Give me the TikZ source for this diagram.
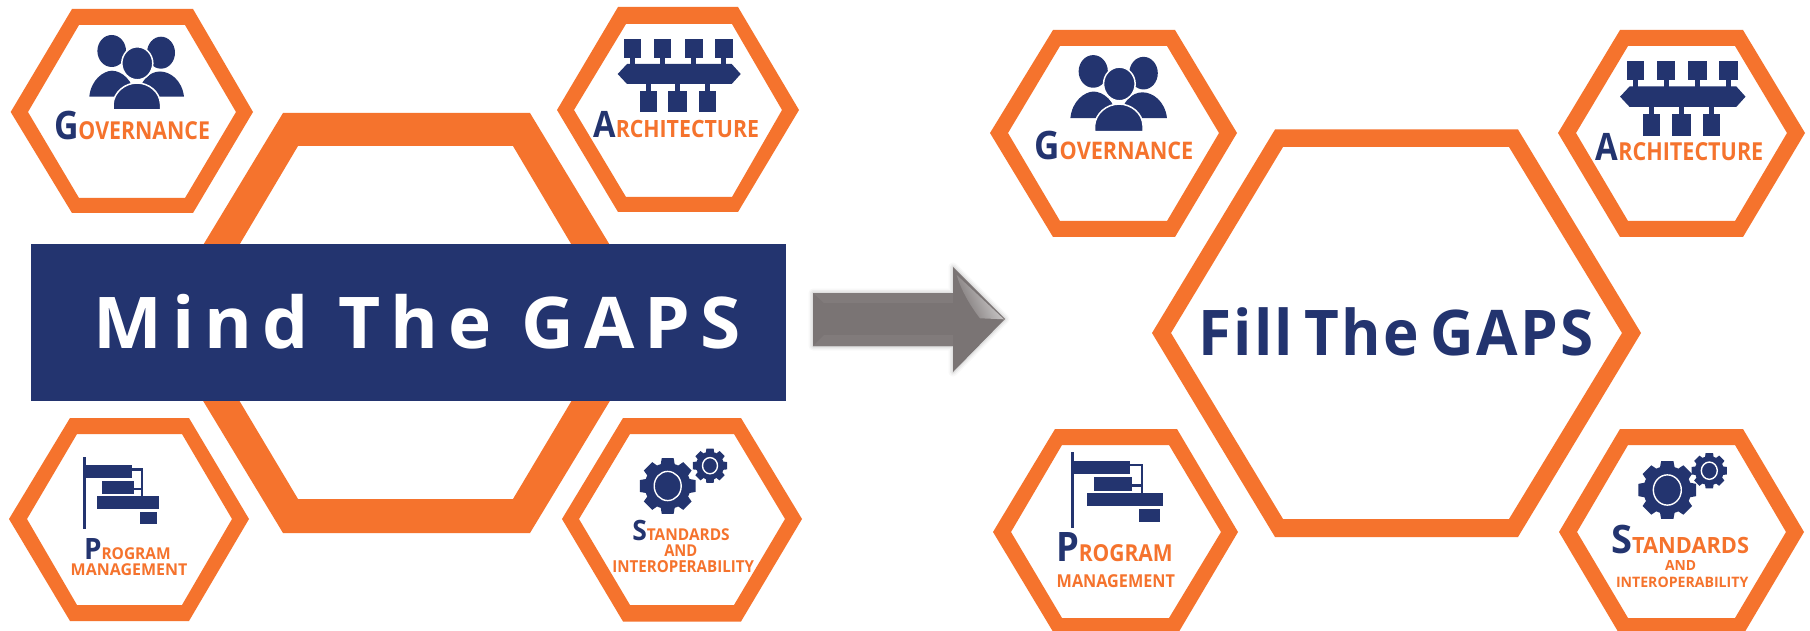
\documentclass[tikz,border=0pt]{standalone}
\usepackage{fontspec}
\usepackage{graphicx}
\setmainfont{Open Sans}
\newfontfamily\mindfont[LetterSpace=14]{Open Sans}
\newfontfamily\fillfont[LetterSpace=4]{Open Sans}
\definecolor{hexorange}{HTML}{F5732D}
\definecolor{navyblue}{HTML}{23346F}
\definecolor{arrowgrey}{HTML}{7A7474}
\newlength{\mylen}
\newcommand{\fitw}[2]{\settowidth{\mylen}{#2}\pgfmathsetmacro{\myf}{#1/\mylen}\scalebox{\myf}[1]{#2}}
\newcommand{\sz}[1]{\fontsize{#1}{#1}\selectfont}
\newcommand{\capw}[4]{{\bfseries\color{navyblue}\sz{#1}#3}{\bfseries\color{hexorange}\sz{#2}#4}}
\newcommand{\smw}[2]{{\bfseries\color{hexorange}\sz{#1}#2}}
\newcommand{\peopleicon}{%
  \fill[navyblue] (111.7,51) ellipse (14.3 and 16);
  \fill[navyblue] (161,52.7) ellipse (14 and 16);
  \fill[navyblue] (89.3,96.7) .. controls (91,80) and (103,71) .. (112,70.7) .. controls (122,71) and (133,80) .. (135,96.7) -- cycle;
  \fill[navyblue] (184,96.7) .. controls (182,80) and (170,71.5) .. (160,71.5) .. controls (150,71.5) and (140,80) .. (138,96.7) -- cycle;
  \fill[navyblue,draw=white,line width=1.5] (137.3,63.3) ellipse (15.5 and 16.5);
  \fill[navyblue,draw=white,line width=1.5] (113,110) -- (113,104) .. controls (114,92) and (125,83) .. (137,83) .. controls (149,83) and (160,92) .. (160.5,104) -- (160.5,110) -- cycle;
  \fill[white] (85,109) rectangle (190,115);
}
\newcommand{\archicon}{%
  \fill[navyblue] (624,38.7) rectangle (641,58);
  \fill[navyblue] (654.3,38.7) rectangle (671.3,58);
  \fill[navyblue] (684.7,38.7) rectangle (702.7,58);
  \fill[navyblue] (714.7,38.7) rectangle (733,58);
  \fill[navyblue] (630,58) rectangle (635,65);
  \fill[navyblue] (660.3,58) rectangle (665.3,65);
  \fill[navyblue] (691.2,58) rectangle (696.2,65);
  \fill[navyblue] (721.3,58) rectangle (726.3,65);
  \fill[navyblue] (617.7,74) -- (627,64) -- (731.7,64) -- (740.7,74) -- (731.7,84) -- (627,84) -- cycle;
  \fill[navyblue] (645.8,84) rectangle (650.8,92);
  \fill[navyblue] (675.2,84) rectangle (680.2,92);
  \fill[navyblue] (704.7,84) rectangle (709.7,92);
  \fill[navyblue] (639.7,91.3) rectangle (657,112.3);
  \fill[navyblue] (668.3,91.3) rectangle (687,112.3);
  \fill[navyblue] (698.7,91.3) rectangle (715.7,112.3);
}
\newcommand{\ganttbars}{%
  \fill[navyblue] (83.3,457.3) rectangle (86,529.3);
  \draw[navyblue,line width=2.2] (132,469.5) -- (141.7,469.5) -- (141.7,497);
  \draw[navyblue,line width=2.2] (133,489) -- (141,489);
  \fill[navyblue] (86,465.3) rectangle (132.3,478);
  \fill[navyblue] (102.3,481.3) rectangle (133.7,494);
  \fill[navyblue] (96.7,496) rectangle (159.3,508.7);
  \fill[navyblue] (139.7,511.7) rectangle (156.7,524.3);
}
% centre x, centre y, root radius, outer radius, ring radius
\newcommand{\gearicon}[5]{%
  \fill[navyblue] (#1,#2) circle (#3);
  \foreach \a in {0,45,...,315}{
    \fill[navyblue] ($(#1,#2)+(\a-19:#3-1)$) -- ($(#1,#2)+(\a-12:#4)$) -- ($(#1,#2)+(\a+12:#4)$) -- ($(#1,#2)+(\a+19:#3-1)$) -- cycle;
  }
  \draw[white,line width=1.4] (#1,#2) ellipse (#5 and #5*1.08);
}
\usetikzlibrary{calc}
\tikzset{
  ring/.style={fill=hexorange,even odd rule},
  txt/.style={anchor=base west,inner sep=0pt,outer sep=0pt},
}
\begin{document}
\begin{tikzpicture}[x=1pt,y=-1pt]
\useasboundingbox (0,0) rectangle (1810,631);
\fill[white] (0,0) rectangle (1810,631);

% left central hexagon
\fill[ring] (156,323)--(283,113)--(530,113)--(657,323)--(530,533)--(283,533)--cycle
  (193,323)--(298,146)--(513,146)--(618,323)--(513,499)--(298,499)--cycle;
% left small hexagons
\fill[ring] (10.7,112)--(72,9)--(193,9)--(253,112)--(193,213)--(72,213)--cycle
  (28,112)--(79,25)--(185,25)--(236,112)--(185,198)--(79,198)--cycle;
\fill[ring] (557,110)--(618,7)--(738,7)--(799,110)--(738,212)--(618,212)--cycle
  (574,110)--(626,24)--(732,24)--(782,110)--(732,197)--(626,197)--cycle;
\fill[ring] (9,519)--(70,418)--(189,418)--(249,519)--(189,621)--(70,621)--cycle
  (27,519)--(77,434)--(182,434)--(232,519)--(182,605)--(77,605)--cycle;
\fill[ring] (562,519)--(623,418)--(741,418)--(802,519)--(741,621.5)--(623,621.5)--cycle
  (579,519)--(630,434)--(734,434)--(785,519)--(734,605)--(630,605)--cycle;

% banner
\fill[navyblue] (30.6,244) rectangle (786,401);
\node[txt,text=white] (mind) at (93,348) {\fitw{648}{\mindfont\bfseries\sz{71.4}Mind The GAPS}};

% arrow
\foreach \w/\o in {9/0.05,6/0.08,3/0.12}{
  \draw[gray,opacity=\o,line width=\w,line join=round] (813,293)--(953,293)--(953,267)--(1005,319)--(953,372)--(953,346)--(813,346)--cycle;
}
\fill[arrowgrey] (813,293)--(953,293)--(953,267)--(1005,319)--(953,372)--(953,346)--(813,346)--cycle;
\fill[fill=arrowgrey!95!white] (813,293)--(953,293)--(953,303)--(824,303)--cycle;
\fill[fill=arrowgrey!95!white] (813,346)--(953,346)--(953,335)--(824,335)--cycle;
\shade[left color=arrowgrey,right color=white!75!arrowgrey,shading angle=115] (956.7,275) -- (1004,319.3) -- (980,318.3) .. controls (968,303) and (960,287) .. (956.7,275) -- cycle;

% right hexagons
\fill[ring] (1152,333)--(1275,129.5)--(1518,129.5)--(1641,333)--(1518,537)--(1275,537)--cycle
  (1171,333)--(1283,147)--(1509,147)--(1622,333)--(1509,519)--(1283,519)--cycle;
\fill[ring] (990,133)--(1053,30)--(1175,30)--(1237,133)--(1175,237)--(1053,237)--cycle
  (1008,133)--(1060,46)--(1167,46)--(1219,133)--(1167,221)--(1060,221)--cycle;
\fill[ring] (1558,133)--(1620,30)--(1743,30)--(1805,133)--(1743,237)--(1620,237)--cycle
  (1576,133)--(1628,46)--(1735,46)--(1787,133)--(1735,221)--(1628,221)--cycle;
\fill[ring] (993,532)--(1055,429)--(1177,429)--(1238,532)--(1177,635)--(1055,635)--cycle
  (1011,532)--(1062,445)--(1169,445)--(1221,532)--(1169,618)--(1062,618)--cycle;
\fill[ring] (1559,532)--(1620,429)--(1743,429)--(1804,532)--(1743,635)--(1620,635)--cycle
  (1577,532)--(1628,445)--(1735,445)--(1786,532)--(1735,618)--(1628,618)--cycle;

\node[txt,text=navyblue] (fill) at (1198,355) {\fitw{396}{\fillfont\bfseries\sz{63}Fill\hspace{-7pt} The\hspace{-7pt} GAPS}};

% icons, left
\peopleicon
\archicon
\ganttbars
\gearicon{667.7}{486}{23}{28.5}{13.5}
\gearicon{710}{465.7}{14}{17.5}{7.5}
% icons, right
\begin{scope}[shift={(979.3,19.4)},scale=1.02]\peopleicon\end{scope}
\begin{scope}[shift={(990,21.2)},scale=1.02]\archicon\end{scope}
\begin{scope}[shift={(970.2,-26.5)},xscale=1.21,yscale=1.047]\ganttbars\end{scope}
\gearicon{1667.3}{490}{24}{29.5}{14}
\gearicon{1709.3}{470.7}{14.5}{18}{8}

% labels, left
\node[txt] (gov1) at (54,139.3) {\fitw{156}{\capw{39.2}{24.7}{G}{OVERNANCE}}};
\node[txt] (arc1) at (593.3,137.7) {\fitw{165.7}{\capw{36.4}{23.8}{A}{RCHITECTURE}}};
\node[txt] (prg1) at (84,559.3) {\fitw{86.7}{\capw{29.4}{16.3}{P}{ROGRAM}}};
\node[txt] (mgt1) at (70.7,575.7) {\fitw{116.6}{\smw{16.3}{MANAGEMENT}}};
\node[txt] (std1) at (632.3,540) {\fitw{97.4}{\capw{28}{16.3}{S}{TANDARDS}}};
\node[txt] (and1) at (664.3,556.7) {\fitw{33}{\smw{16.3}{AND}}};
\node[txt] (int1) at (612.3,572.7) {\fitw{141.7}{\smw{16.5}{INTEROPERABILITY}}};
% labels, right
\node[txt] (gov2) at (1034.3,160) {\fitw{159}{\capw{39.2}{24.2}{G}{OVERNANCE}}};
\node[txt] (arc2) at (1595.7,161) {\fitw{167.6}{\capw{37.8}{24.8}{A}{RCHITECTURE}}};
\node[txt] (prg2) at (1056,561.7) {\fitw{116.7}{\capw{40.6}{23.4}{P}{ROGRAM}}};
\node[txt] (mgt2) at (1056.7,587.7) {\fitw{118.3}{\smw{17.8}{MANAGEMENT}}};
\node[txt] (std2) at (1611,553.3) {\fitw{138}{\capw{39.2}{22.4}{S}{TANDARDS}}};
\node[txt] (and2) at (1665,570) {\fitw{31}{\smw{14}{AND}}};
\node[txt] (int2) at (1616,587.7) {\fitw{132.3}{\smw{14.4}{INTEROPERABILITY}}};
\end{tikzpicture}
\end{document}
